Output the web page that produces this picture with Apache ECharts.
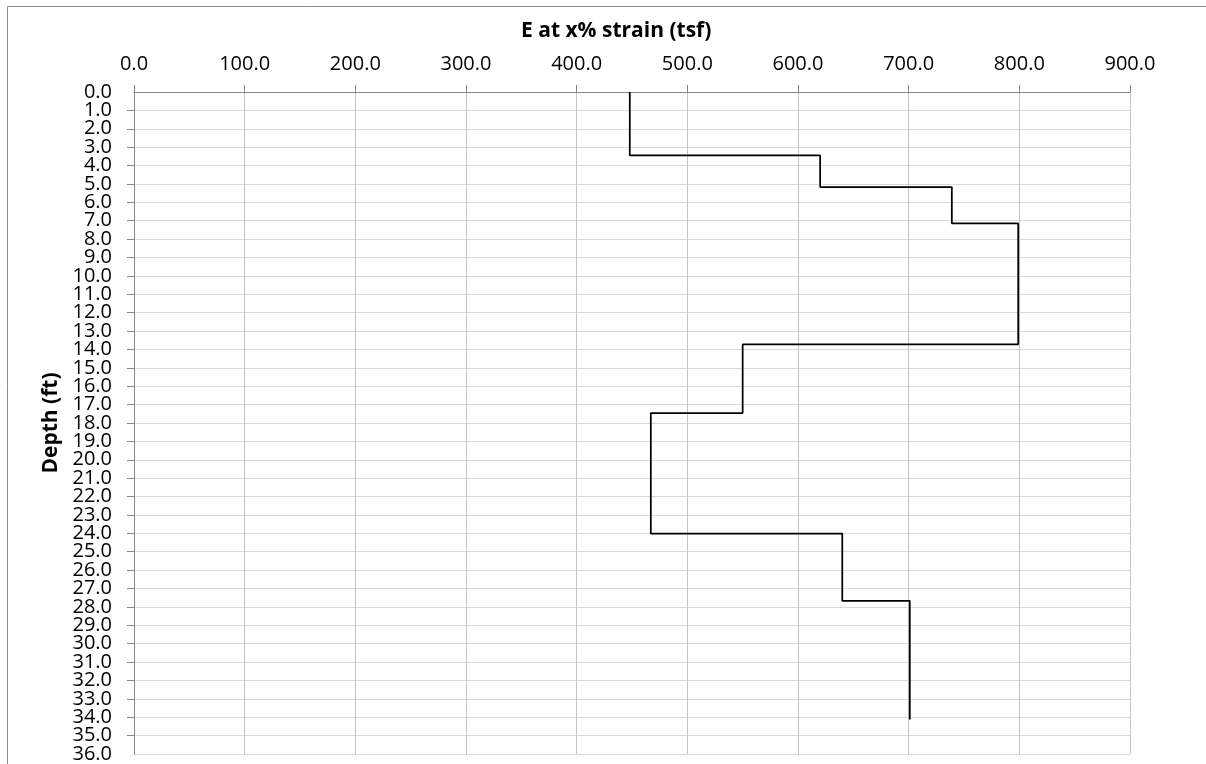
<!DOCTYPE html>
<html>
<head>
<meta charset="utf-8">
<script src="https://cdn.jsdelivr.net/npm/echarts@6/dist/echarts.min.js"></script>
<style>
	html, body { margin: 0; padding: 0; background: #fff; }
	#main { width: 1206px; height: 764px; }
</style>
</head>
<body>
<div id="main"></div>
<script>
// layer tops (ft) and E for each layer (tsf)
var layerTop = [0, 3.45, 5.17, 7.15, 13.72, 17.46, 24.02, 27.67];
var bottomDepth = 34.13;
var modulus = [448, 620, 739, 799, 550, 467, 640, 701];

var xTicks = [0, 100, 200, 300, 400, 500, 600, 700, 800, 900];
var depthMax = 36;

(function() {
	// step profile: each layer is a vertical run from top to bottom of layer
	var pts = [];
	for (var i = 0; i < modulus.length; i++) {
		var bot = (i + 1 < layerTop.length) ? layerTop[i + 1] : bottomDepth;
		pts.push([modulus[i], layerTop[i]]);
		pts.push([modulus[i], bot]);
	}

	var font = 'Open Sans';
	var fmt = function(v) { return v.toFixed(1); };
	var labelStyle = {
		margin: 22,
		fontFamily: font,
		fontSize: 20,
		lineHeight: 12,
		color: '#000',
		hideOverlap: false,
		formatter: fmt
	};
	var myChart = echarts.init(document.getElementById('main'), null, { renderer: 'canvas' });

	var option = {
		animation: false,
		backgroundColor: '#fff',
		title: {
			text: 'E at x% strain (tsf)',
			left: 516,
			top: 16,
			textStyle: { fontFamily: font, fontSize: 21, fontWeight: 'bold', color: '#000' }
		},
		graphic: [{
			type: 'rect',
			shape: { x: 7.5, y: 6.5, width: 1400, height: 1000 },
			style: { fill: null, stroke: '#8c8c8c', lineWidth: 1 },
			silent: true
		}],
		grid: {
			left: 134,
			right: 76,
			top: 92,
			bottom: 10
		},
		xAxis: {
			type: 'value',
			position: 'top',
			min: xTicks[0],
			max: xTicks[xTicks.length - 1],
			interval: 100,
			axisLine: { show: true, lineStyle: { color: '#868686', width: 1 } },
			axisTick: { show: true, inside: false, length: 7, lineStyle: { color: '#868686' } },
			axisLabel: {
				margin: 18,
				fontFamily: font,
				fontSize: 20,
				color: '#000',
				showMinLabel: true,
				showMaxLabel: true,
				formatter: fmt
			},
			splitLine: { show: true, lineStyle: { color: '#c4c4c4', width: 1 } }
		},
		yAxis: [{
			type: 'value',
			position: 'left',
			inverse: true,
			min: 0,
			max: depthMax,
			interval: 1,
			name: 'Depth (ft)',
			nameLocation: 'middle',
			nameGap: 72,
			nameRotate: 90,
			nameTextStyle: { fontFamily: font, fontSize: 21, fontWeight: 'bold', color: '#000' },
			axisLine: { show: true, lineStyle: { color: '#868686', width: 1 } },
			axisTick: { show: true, inside: false, length: 7, lineStyle: { color: '#868686' } },
			axisLabel: echarts.util.extend({ showMinLabel: false, showMaxLabel: false }, labelStyle),
			splitLine: { show: true, lineStyle: { color: '#d9d9d9', width: 1 } }
		}, {
			// end labels (0.0 and 36.0), which the main axis drops as overlapping
			type: 'value',
			position: 'left',
			offset: 0,
			inverse: true,
			min: 0,
			max: depthMax,
			interval: depthMax,
			axisLine: { show: false },
			axisTick: { show: false },
			axisLabel: echarts.util.extend({ showMinLabel: true, showMaxLabel: true }, labelStyle),
			splitLine: { show: false }
		}],
		series: [{
			name: 'E',
			type: 'line',
			yAxisIndex: 0,
			data: pts,
			showSymbol: false,
			symbol: 'none',
			lineStyle: { color: '#000', width: 1.75 },
			z: 5
		}]
	};
	myChart.setOption(option);
})();
</script>
</body>
</html>
